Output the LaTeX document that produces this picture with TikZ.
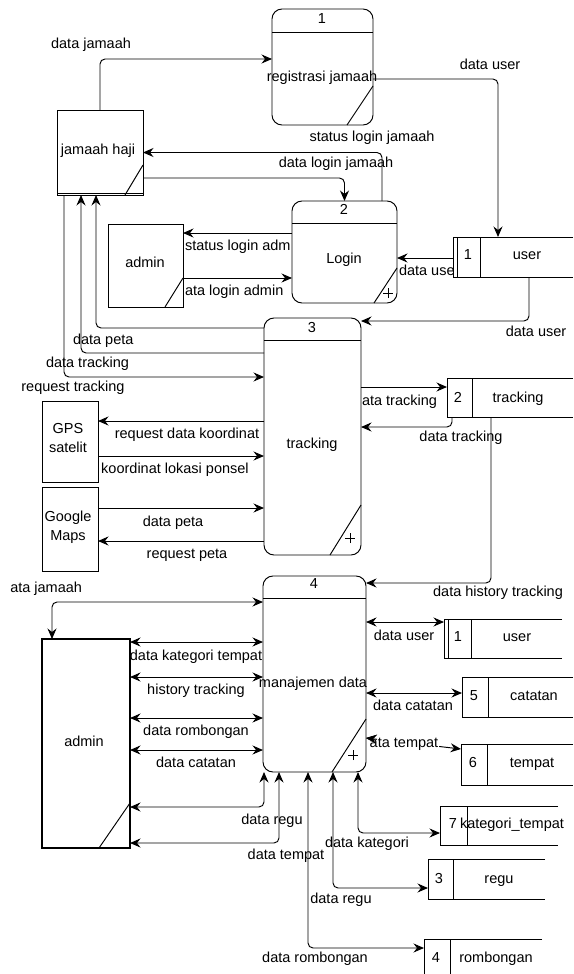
\documentclass[tikz,border=0pt]{standalone}
\usepackage{fontspec}
\setmainfont{Liberation Sans}
\usetikzlibrary{arrows.meta}
\newcommand{\mkbox}[6]{\node[#1, minimum width={(#5-#3)*1pt}, minimum height={(#6-#4)*1pt}] (#2) at ({(#3+#5)/2},{(#4+#6)/2}) {};}
\begin{document}
\begin{tikzpicture}[x=1pt,y=-1pt,line width=0.95pt,
  every node/.style={font=\fontsize{14.5}{16}\selectfont, inner sep=0pt, outer sep=0pt, text height=10pt, text depth=2.5pt},
  proc/.style={draw, rectangle, rounded corners=10pt, fill=white},
  ext/.style={draw, rectangle, fill=white},
  sto/.style={rectangle},
  lbl/.style={},
  conn/.style={rounded corners=5pt},
  arr/.style={conn, -{Stealth[length=10.5pt,width=9pt,inset=3.5pt]}},
  barr/.style={conn, {Stealth[length=10.5pt,width=9pt,inset=3.5pt]}-{Stealth[length=10.5pt,width=9pt,inset=3.5pt]}},
  plus/.style={line width=0.6pt}]
\useasboundingbox (0,0) rectangle (573,974);

% ---------- processes ----------
\mkbox{proc}{p1}{272}{9}{373}{125}
\mkbox{proc}{p2}{292}{201}{397}{303}
\mkbox{proc}{p3}{264}{318}{361}{555}
\mkbox{proc}{p4}{263}{576}{366}{772}
\draw ([yshift=-23pt]p1.north west) -- ([yshift=-23pt]p1.north east);
\draw ([yshift=-22pt]p2.north west) -- ([yshift=-22pt]p2.north east);
\draw ([yshift=-22pt]p3.north west) -- ([yshift=-22pt]p3.north east);
\draw ([yshift=-22pt]p4.north west) -- ([yshift=-22pt]p4.north east);
\draw ([yshift=-19pt]p1.east) -- ([xshift=24.5pt]p1.south);
\draw ([yshift=-16pt]p2.east) -- ([xshift=29.5pt]p2.south);
\draw ([yshift=-68.5pt]p3.east) -- ([xshift=17.5pt]p3.south);
\draw ([yshift=-45pt]p4.east) -- ([xshift=17.5pt]p4.south);
\coordinate (p2p) at (388,293);
\coordinate (p3p) at (350,538);
\coordinate (p4p) at (353,755);
\foreach \c in {p2p,p3p,p4p}{\draw[plus] ([xshift=-5pt]\c) -- ([xshift=5pt]\c) ([yshift=-5pt]\c) -- ([yshift=5pt]\c);}
\node (p1n) at (322,20) {1};
\node (p1t) at (322,78) {registrasi jamaah};
\node (p2n) at (344,211) {2};
\node (p2t) at (344,260) {Login};
\node (p3n) at (312,329) {3};
\node (p3t) at (312,445) {tracking};
\node (p4n) at (314,585) {4};
\node (p4t) at (313,684) {manajemen data};

% ---------- external entities ----------
\mkbox{ext}{jh}{57}{110}{143}{195}
\mkbox{ext}{adm1}{108}{224}{183}{307}
\mkbox{ext}{gps}{42}{401}{98}{482}
\mkbox{ext}{gm}{42}{487}{98}{571}
\mkbox{ext, line width=1.6pt}{adm2}{42}{639}{130}{848}
\draw ([yshift=1.5pt]jh.south west) -- ([yshift=1.5pt]jh.south east);
\draw ([yshift=-12.5pt]jh.east) -- ([xshift=25pt]jh.south);
\draw ([yshift=-12.5pt]adm1.east) -- ([xshift=19.5pt]adm1.south);
\draw ([yshift=-59.5pt]adm2.east) -- ([xshift=13pt]adm2.south);
\node (jht) at (98,151) {jamaah haji};
\node (adm1t) at (145,264) {admin};
\node (gpst1) at (68,430) {GPS};
\node (gpst2) at (68,449) {satelit};
\node (gmt1) at (68,518) {Google};
\node (gmt2) at (68,537) {Maps};
\node (adm2t) at (84,743) {admin};

% ---------- data stores ----------
\mkbox{sto}{us1}{453}{237}{573}{277}
\mkbox{sto}{trs}{447}{378}{573}{417}
\mkbox{sto}{us2}{444}{619}{562}{658}
\mkbox{sto}{cat}{462}{677}{573}{717}
\mkbox{sto}{tem}{461}{744}{573}{785}
\mkbox{sto}{kat}{440}{806}{558}{845}
\mkbox{sto}{regu}{428}{859}{545}{899}
\mkbox{sto}{rom}{424}{939}{542}{980}
\foreach \n/\d in {us1/27,trs/25,us2/27,cat/26,tem/26,kat/27,regu/25,rom/26}{
  \draw (\n.north east) -- (\n.north west) -- (\n.south west) -- (\n.south east);
  \draw ([xshift=\d pt]\n.north west) -- ([xshift=\d pt]\n.south west);
}
\draw ([xshift=4pt]us1.north west) -- ([xshift=4pt]us1.south west);
\draw ([xshift=4pt]us2.north west) -- ([xshift=4pt]us2.south west);
\node (us1n) at (468,256) {1};
\node (us1t) at (527,256) {user};
\node (trsn) at (458,399) {2};
\node (trst) at (518,399) {tracking};
\node (us2n) at (458,638) {1};
\node (us2t) at (517,638) {user};
\node (catn) at (474,697) {5};
\node (catt) at (534,697) {catatan};
\node (temn) at (473,764) {6};
\node (temt) at (532,764) {tempat};
\node (katn) at (453,825) {7};
\node (katt) at (512,825) {kategori\_tempat};
\node (regun) at (439,880) {3};
\node (regut) at (499,880) {regu};
\node (romn) at (436,959) {4};
\node (romt) at (496,959) {rombongan};

% ---------- connectors ----------
\draw[arr] (jh.north) |- ([yshift=8pt]p1.west);
\draw[arr] ([yshift=-12pt]p1.east) -| ([xshift=-15pt]us1.north);
\draw[arr] ([xshift=37.5pt]p2.north) |- (jh.east);
\draw[arr] ([yshift=-25.5pt]jh.east) -| (p2.north);
\draw[arr] ([yshift=19pt]p2.west) -- ([yshift=32.5pt]adm1.east);
\draw[arr] ([yshift=-12.5pt]adm1.east) -- ([yshift=-26pt]p2.west);
\draw[arr] ([yshift=-1pt]us1.west) -- ([yshift=-6pt]p2.east);
\draw[arr] ([xshift=16pt]us1.south) |- ([yshift=115.5pt]p3.east);
\draw[arr] ([yshift=108.5pt]p3.west) -| ([xshift=-4pt]jh.south);
\draw[arr] ([yshift=83.5pt]p3.west) -| ([xshift=-19pt]jh.south);
\draw[arr] ([xshift=-36pt]jh.south) |- ([yshift=59.5pt]p3.west);
\draw[arr] ([yshift=15.5pt]p3.west) -- ([yshift=20.5pt]gps.east);
\draw[arr] ([yshift=-14.5pt]gps.east) -- ([yshift=-19.5pt]p3.west);
\draw[arr] ([yshift=21pt]gm.east) -- ([yshift=-71.5pt]p3.west);
\draw[arr] ([yshift=-104.5pt]p3.west) -- ([yshift=-12pt]gm.east);
\draw[arr] ([yshift=49.5pt]p3.east) -- ([yshift=10.5pt]trs.west);
\draw[arr] ([xshift=-58pt]trs.south) |- ([yshift=9.5pt]p3.east);
\draw[arr] ([xshift=-19pt]trs.south) |- ([yshift=91pt]p4.east);
\draw[barr] ([yshift=72pt]p4.west) -| ([xshift=-34pt]adm2.north);
\draw[barr] ([yshift=101.5pt]adm2.east) -- ([yshift=32pt]p4.west);
\draw[barr] ([yshift=66.5pt]adm2.east) -- ([yshift=-3pt]p4.west);
\draw[barr] ([yshift=25.5pt]adm2.east) -- ([yshift=-44pt]p4.west);
\draw[barr] ([yshift=-6.5pt]adm2.east) -- ([yshift=-76pt]p4.west);
\draw[barr] ([xshift=-50.5pt]p4.south) |- ([yshift=-63.5pt]adm2.east);
\draw[barr] ([xshift=-35.5pt]p4.south) |- ([yshift=-99.5pt]adm2.east);
\draw[barr] ([xshift=-6.5pt]p4.south) |- ([yshift=11.5pt]rom.west);
\draw[barr] ([xshift=18.5pt]p4.south) |- ([yshift=-9pt]regu.west);
\draw[barr] ([xshift=43.5pt]p4.south) |- ([yshift=-7.5pt]kat.west);
\draw[barr] ([yshift=52pt]p4.east) -- ([yshift=16.5pt]us2.west);
\draw[barr] ([yshift=-19pt]p4.east) -- ([yshift=4pt]cat.west);
\draw[barr] ([yshift=-64pt]p4.east) -- ([yshift=15.5pt]tem.west);

% ---------- labels ----------
\node[lbl] (l1) at (91,45) {data jamaah};
\node[lbl] (l2) at (490,66) {data user};
\node[lbl] (l3) at (372,138) {status login jamaah};
\node[lbl] (l4) at (336,164) {data login jamaah};
\node[lbl, anchor=west] (l5) at (185,247) {status login adm};
\node[lbl, anchor=west] (l6) at (185,292) {ata login admin};
\node[lbl, anchor=west] (l7) at (399,272) {data use};
\node[lbl] (l8) at (536,333) {data user};
\node[lbl, anchor=west] (l9) at (73,341) {data peta};
\node[lbl, anchor=west] (l10) at (46,364) {data tracking};
\node[lbl] (l11) at (73,388) {request tracking};
\node[lbl] (l12) at (187,435) {request data koordinat};
\node[lbl] (l13) at (175,470) {koordinat lokasi ponsel};
\node[lbl] (l14) at (173,523) {data peta};
\node[lbl] (l15) at (187,555) {request peta};
\node[lbl, anchor=west] (l16) at (362,402) {ata tracking};
\node[lbl] (l17) at (461,438) {data tracking};
\node[lbl] (l18) at (498,593) {data history tracking};
\node[lbl, anchor=east] (l19) at (82,589) {ata jamaah};
\node[lbl] (l20) at (196,657) {data kategori tempat};
\node[lbl] (l21) at (196,691) {history tracking};
\node[lbl] (l22) at (196,732) {data rombongan};
\node[lbl] (l23) at (196,764) {data catatan};
\node[lbl] (l24) at (272,821) {data regu};
\node[lbl] (l25) at (286,856) {data tempat};
\node[lbl] (l26) at (315,959) {data rombongan};
\node[lbl] (l27) at (341,900) {data regu};
\node[lbl] (l28) at (367,844) {data kategori};
\node[lbl] (l29) at (404,637) {data user};
\node[lbl] (l30) at (413,707) {data catatan};
\node[lbl, fill=white, inner xsep=1pt] (l31) at (404,744) {ata tempat};
\coordinate (tpa) at (377,739.3);
\draw[arr] (tpa) -- ([yshift=-64pt]p4.east);
\end{tikzpicture}
\end{document}
